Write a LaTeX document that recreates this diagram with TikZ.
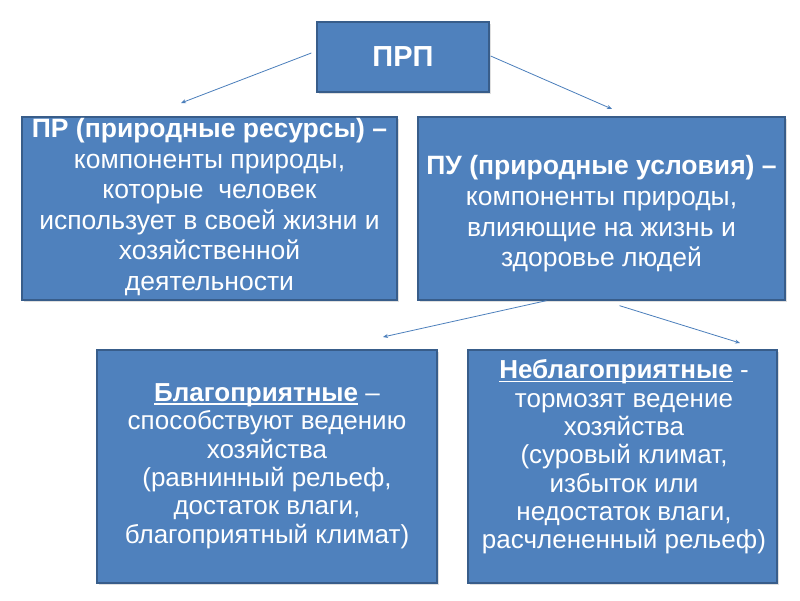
\documentclass[tikz,border=0pt]{standalone}
\usepackage{fontspec}
\setmainfont{Liberation Sans}
\usetikzlibrary{arrows.meta,shadows}
\definecolor{boxfill}{HTML}{4F81BD}
\definecolor{boxline}{HTML}{385D8A}
\definecolor{arrcol}{HTML}{4A7EBB}
\newcommand\myul[1]{\setbox0\hbox{#1}\rlap{\rule[-3.2pt]{\wd0}{1.6pt}}\box0\relax}
\begin{document}
\begin{tikzpicture}[x=1pt,y=-1pt,
  box/.style={draw=boxline, line width=1.3pt, fill=boxfill, inner sep=0pt,
    drop shadow={opacity=0.25, shadow xshift=1.5pt, shadow yshift=-1.5pt}},
  txt/.style={text=white, align=center, inner sep=0pt},
  topfont/.style={font=\fontsize{26.5}{30.6}\selectfont},
  lowfont/.style={font=\fontsize{26}{28.3}\selectfont},
  arr/.style={draw=arrcol, line width=0.8pt, -{Stealth[length=5pt,width=4pt]}}]
\useasboundingbox (0,0) rectangle (800,600);
\fill[white] (0,0) rectangle (800,600);

\node[box, minimum width=172pt, minimum height=70pt] (prp) at (403,57) {};
\node[txt, font=\fontsize{29}{33}\selectfont\bfseries] (prpt) at (prp.center) {ПРП};

\node[box, minimum width=375pt, minimum height=183pt] (pr) at (209.5,208.5) {};
\node[txt, topfont] (prt) at (209.5,207)
  {\textbf{ПР (природные ресурсы) –}\\компоненты природы,\\которые\ \ человек\\использует в своей жизни и\\хозяйственной\\деятельности};

\node[box, minimum width=367pt, minimum height=183pt] (pu) at (601.5,208.5) {};
\node[txt, topfont] (put) at (601.5,214)
  {\textbf{ПУ (природные условия) –}\\компоненты природы,\\влияющие на жизнь и\\здоровье людей};

\node[box, minimum width=340pt, minimum height=233pt] (bl) at (267,466.5) {};
\node[txt, lowfont] (blt) at (267,466)
  {\myul{\textbf{Благоприятные}} –\\способствуют ведению\\хозяйства\\(равнинный рельеф,\\достаток влаги,\\благоприятный климат)};

\node[box, minimum width=309pt, minimum height=233pt] (nb) at (622.5,466.5) {};
\node[txt, lowfont] (nbt) at (624,457)
  {\myul{\textbf{Неблагоприятные}} -\\тормозят ведение\\хозяйства\\(суровый климат,\\избыток или\\недостаток влаги,\\расчлененный рельеф)};

\coordinate (e1) at (181,103);
\coordinate (e2) at (612,109);
\coordinate (e3) at (383,337);
\coordinate (e4) at (740,343);

\draw[arr] ([xshift=-5pt,yshift=4pt]prp.west) -- (e1);
\draw[arr] ([xshift=1pt,yshift=1pt]prp.east) -- (e2);
\draw[arr] ([xshift=-55pt]pu.south) -- (e3);
\draw[arr] ([xshift=18pt,yshift=-5pt]pu.south) -- (e4);
\end{tikzpicture}
\end{document}
